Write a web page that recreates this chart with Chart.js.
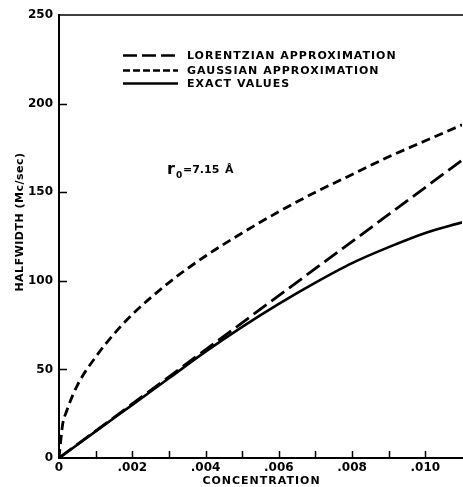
<!DOCTYPE html>
<html>
<head>
<meta charset="utf-8">
<script src="https://cdn.jsdelivr.net/npm/chart.js@4.4.1/dist/chart.umd.min.js"></script>
<style>
  html, body { margin: 0; padding: 0; background: #fff; }
  #wrap { width: 463px; height: 487px; position: relative; }
</style>
</head>
<body>
<div id="wrap"><canvas id="chart"></canvas></div>
<script>
// Concentration axis ticks and labels
const xTickValues = [0, 0.002, 0.004, 0.006, 0.008, 0.010];
const xTickLabels = ['0', '.002', '.004', '.006', '.008', '.010'];
const xMinorTicks = [0.001, 0.002, 0.003, 0.004, 0.005, 0.006, 0.007, 0.008, 0.009, 0.010];
const yTickValues = [0, 50, 100, 150, 200, 250];
const yTickLabels = ['0', '50', '100', '150', '200', '250'];
const xTitle = 'CONCENTRATION';
const yTitle = 'HALFWIDTH (Mc/sec)';

// Lorentzian approximation (straight line)
const lorentzConc = [0, 0.011];
const lorentzWidth = [0, 168];

// Gaussian approximation
const gaussConc = [0, 0.0001, 0.0002, 0.0005, 0.001, 0.0015, 0.002, 0.003, 0.004, 0.005, 0.006, 0.007, 0.008, 0.009, 0.010, 0.011];
const gaussWidth = [0, 19, 26, 41, 57, 70, 81, 99, 114, 127, 139, 150, 160, 170, 179, 188];

// Exact values
const exactConc = [0, 0.001, 0.002, 0.003, 0.004, 0.005, 0.006, 0.007, 0.008, 0.009, 0.010, 0.011];
const exactWidth = [0, 15, 30, 45, 60, 74, 87, 99, 110, 119, 127, 133];

const seriesNames = ['LORENTZIAN APPROXIMATION', 'GAUSSIAN APPROXIMATION', 'EXACT VALUES'];

const toXY = (xs, ys) => xs.map((x, i) => ({ x: x, y: ys[i] }));

const FONT = '"DejaVu Sans", "Liberation Sans", sans-serif';

const overlay = {
  id: 'overlay',
  afterDraw(chart) {
    const ctx = chart.ctx;
    const area = chart.chartArea;
    const xs = chart.scales.x, ys = chart.scales.y;
    ctx.save();
    ctx.strokeStyle = '#000';
    ctx.fillStyle = '#000';

    // top frame line
    ctx.lineWidth = 1.5;
    ctx.beginPath();
    ctx.moveTo(area.left, area.top);
    ctx.lineTo(area.right + 1, area.top);
    ctx.stroke();

    // inward tick marks
    ctx.lineWidth = 1.5;
    ctx.beginPath();
    xMinorTicks.forEach(v => {
      const px = Math.round(xs.getPixelForValue(v)) + 0.5;
      ctx.moveTo(px, area.bottom);
      ctx.lineTo(px, area.bottom - 7);
    });
    yTickValues.slice(1, -1).forEach(v => {
      const py = Math.round(ys.getPixelForValue(v)) + 0.5;
      ctx.moveTo(area.left, py);
      ctx.lineTo(area.left + 8, py);
    });
    ctx.stroke();

    // axis titles
    ctx.textAlign = 'center';
    ctx.textBaseline = 'middle';
    ctx.letterSpacing = '1px';
    ctx.font = 'bold 11px ' + FONT;
    ctx.fillText(xTitle, (area.left + area.right) / 2 + 1, 481);
    ctx.save();
    ctx.translate(20, 222);
    ctx.rotate(-Math.PI / 2);
    ctx.letterSpacing = '0.5px';
    ctx.fillText(yTitle, 0, 0);
    ctx.restore();

    // legend
    const rows = [55, 70, 83];
    ctx.letterSpacing = '1px';
    ctx.font = 'bold 11px ' + FONT;
    ctx.textBaseline = 'middle';
    ctx.textAlign = 'left';
    chart.data.datasets.forEach((ds, i) => {
      const y = rows[i] + 0.5;
      ctx.save();
      ctx.lineWidth = 2.5;
      ctx.setLineDash(ds.legendDash || []);
      ctx.beginPath();
      ctx.moveTo(123, y);
      ctx.lineTo(178, y);
      ctx.stroke();
      ctx.restore();
      ctx.fillText(ds.label, 187, rows[i] + 1);
    });

    // radius annotation
    ctx.letterSpacing = '0px';
    ctx.textBaseline = 'alphabetic';
    ctx.font = 'bold 16px ' + FONT;
    ctx.fillText('r', 167, 174);
    ctx.font = 'bold 9px ' + FONT;
    ctx.fillText('0', 176, 178);
    ctx.font = 'bold 11px ' + FONT;
    ctx.fillText('=7.15', 183, 173);
    ctx.fillText('\u00C5', 225, 173);

    ctx.restore();
  }
};

new Chart(document.getElementById('chart'), {
  type: 'line',
  data: {
    datasets: [
      {
        label: seriesNames[0],
        data: toXY(lorentzConc, lorentzWidth),
        borderColor: '#000',
        borderWidth: 2.8,
        borderDash: [16, 6],
        legendDash: [14, 5],
        pointRadius: 0,
        fill: false
      },
      {
        label: seriesNames[1],
        data: toXY(gaussConc, gaussWidth),
        borderColor: '#000',
        borderWidth: 2.8,
        borderDash: [9, 5],
        legendDash: [7, 3],
        cubicInterpolationMode: 'monotone',
        pointRadius: 0,
        fill: false
      },
      {
        label: seriesNames[2],
        data: toXY(exactConc, exactWidth),
        borderColor: '#000',
        borderWidth: 2.6,
        legendDash: [],
        cubicInterpolationMode: 'monotone',
        pointRadius: 0,
        fill: false
      }
    ]
  },
  options: {
    responsive: true,
    maintainAspectRatio: false,
    animation: false,
    layout: { padding: { top: 15, right: 1, left: 0, bottom: 0 } },
    plugins: {
      legend: { display: false },
      tooltip: { enabled: false }
    },
    scales: {
      x: {
        type: 'linear',
        min: 0,
        max: 0.011,
        afterBuildTicks(scale) {
          scale.ticks = xTickValues.map(v => ({ value: v }));
        },
        afterFit(scale) { scale.height = 29; },
        grid: { display: false, drawTicks: false, tickLength: 0 },
        border: { display: true, color: '#000', width: 2 },
        ticks: {
          color: '#000',
          padding: 3,
          maxRotation: 0,
          autoSkip: false,
          font: { family: FONT, size: 12, weight: 'bold' },
          callback: (v, i) => xTickLabels[i]
        },
        title: { display: false }
      },
      y: {
        type: 'linear',
        min: 0,
        max: 250,
        afterBuildTicks(scale) {
          scale.ticks = yTickValues.map(v => ({ value: v }));
        },
        afterFit(scale) { scale.width = 59; },
        grid: { display: false, drawTicks: false, tickLength: 0 },
        border: { display: true, color: '#000', width: 2 },
        ticks: {
          color: '#000',
          padding: 6,
          autoSkip: false,
          font: { family: FONT, size: 12, weight: 'bold' },
          callback: (v, i) => yTickLabels[i]
        },
        title: { display: false }
      }
    }
  },
  plugins: [overlay]
});
</script>
</body>
</html>
